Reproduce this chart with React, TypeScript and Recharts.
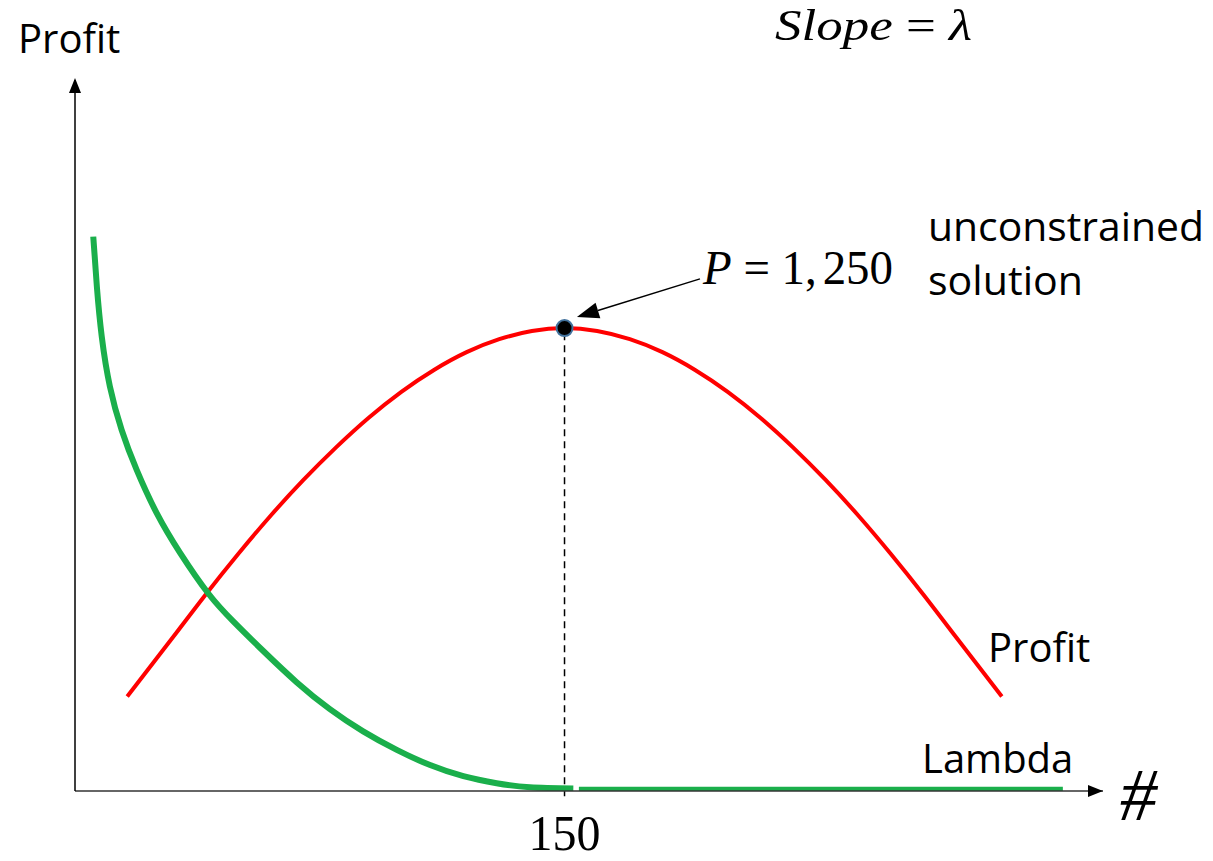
import React from "react";
import { ComposedChart, Line, XAxis, YAxis, ReferenceLine, ReferenceDot } from "recharts";

// values
const profitX = [16, 30, 40, 50, 60, 70, 80, 90, 100, 110, 120, 130, 140, 150, 160, 170, 180, 190, 200, 210, 220, 230, 240, 250, 260, 270, 284];
const profitY = [255, 415, 530, 640, 744, 840, 928, 1008, 1078, 1137, 1185, 1220, 1242, 1250, 1242, 1220, 1185, 1137, 1078, 1008, 928, 840, 744, 640, 530, 415, 255];
const lambdaX = [5.6, 6.7, 8.2, 10.7, 14.3, 18.9, 25, 32.2, 40.8, 48.5, 57.7, 67.9, 78.1, 88.3, 98.6, 108.8, 119, 129.2, 139.4, 152.7];
const lambdaY = [1497, 1362, 1227, 1092, 975, 867, 751, 643, 534, 458, 378, 294, 221, 161, 111, 70, 40, 21, 10, 7];
const lambdaFlatX = [154.4, 302.7];
const lambdaFlatY = [5, 5];
const optimumX = 150;
const optimumProfit = 1250;
const xTicks = [150];
const xMax = 315;
const yMax = 1920;

const profitData = profitX.map((x, i) => ({ x, y: profitY[i] }));
const lambdaData = lambdaX.map((x, i) => ({ x, y: lambdaY[i] }));
const lambdaFlatData = lambdaFlatX.map((x, i) => ({ x, y: lambdaFlatY[i] }));

const SANS = "'Open Sans', sans-serif";
const SERIF = "'Liberation Serif', 'Times New Roman', serif";

function XTick({ x, y, payload }: any) {
  return (
    <text x={x} y={y + 51} textAnchor="middle" fontFamily={SERIF} fontSize={50} textLength={72} lengthAdjust="spacingAndGlyphs" fill="#000">
      {payload.value}
    </text>
  );
}

function RightArrow({ cx, cy }: any) {
  return <polygon points={`${cx},${cy} ${cx - 15},${cy - 6} ${cx - 15},${cy + 6}`} fill="#000" />;
}

function UpArrow({ cx, cy }: any) {
  return <polygon points={`${cx},${cy - 2} ${cx - 6},${cy + 13} ${cx + 6},${cy + 13}`} fill="#000" />;
}

function Pointer({ x1, y1, x2, y2 }: any) {
  const dx = x2 - x1;
  const dy = y2 - y1;
  const len = Math.sqrt(dx * dx + dy * dy) || 1;
  const ux = dx / len;
  const uy = dy / len;
  const bx = x2 - ux * 22;
  const by = y2 - uy * 22;
  const px = -uy * 8;
  const py = ux * 8;
  return (
    <g>
      <line x1={x1} y1={y1} x2={bx} y2={by} stroke="#000" strokeWidth={1.5} />
      <polygon points={`${x2},${y2} ${bx + px},${by + py} ${bx - px},${by - py}`} fill="#000" />
    </g>
  );
}

export default function App() {
  return (
    <div style={{ position: "absolute", left: 0, top: 0, background: "#fff" }}>
      <ComposedChart width={1213} height={861} margin={{ top: 80, right: 110, bottom: 69, left: 74 }}>
        <XAxis
          type="number"
          dataKey="x"
          domain={[0, xMax]}
          ticks={xTicks}
          height={1}
          allowDataOverflow
          axisLine={{ stroke: "#333", strokeWidth: 1.5 }}
          tickLine={false}
          tick={<XTick />}
        />
        <YAxis
          type="number"
          domain={[0, yMax]}
          width={1}
          allowDataOverflow
          axisLine={{ stroke: "#000", strokeWidth: 1.5 }}
          tickLine={false}
          tick={false}
        />
        <ReferenceLine
          segment={[{ x: optimumX, y: -14 }, { x: optimumX, y: optimumProfit }]}
          ifOverflow="visible"
          stroke="#000"
          strokeWidth={1.5}
          strokeDasharray="7 5"
        />
        <Line data={profitData} dataKey="y" type="natural" stroke="#FF0000" strokeWidth={4} dot={false} isAnimationActive={false} />
        <Line data={lambdaData} dataKey="y" type="natural" stroke="#1AAF4B" strokeWidth={6} dot={false} isAnimationActive={false} />
        <Line data={lambdaFlatData} dataKey="y" type="linear" stroke="#1AAF4B" strokeWidth={5} dot={false} isAnimationActive={false} />
        <ReferenceDot x={optimumX} y={optimumProfit} r={8} fill="#000" stroke="#41719C" strokeWidth={2} />
        <ReferenceLine segment={[{ x: 191.5, y: 1383 }, { x: 153.8, y: 1280 }]} shape={<Pointer />} />
        <ReferenceDot x={xMax} y={0} shape={<RightArrow />} />
        <ReferenceDot x={0} y={yMax} shape={<UpArrow />} />

        <text x={18} y={53} fontFamily={SANS} fontSize={40} fill="#000">Profit</text>
        <text x={775} y={40} fontFamily={SERIF} fontSize={44} textLength={197} lengthAdjust="spacingAndGlyphs" fill="#000">
          <tspan fontStyle="italic">Slope</tspan>
          <tspan> = </tspan>
          <tspan fontStyle="italic">λ</tspan>
        </text>
        <text x={703} y={284} fontFamily={SERIF} fontSize={48} textLength={190} lengthAdjust="spacingAndGlyphs" fill="#000">
          <tspan fontStyle="italic">P</tspan>
          <tspan> = 1,</tspan>
          <tspan dx={6}>250</tspan>
        </text>
        <text x={928} y={241} fontFamily={SANS} fontSize={40} textLength={276} lengthAdjust="spacingAndGlyphs" fill="#000">unconstrained</text>
        <text x={928} y={295} fontFamily={SANS} fontSize={40} textLength={155} lengthAdjust="spacingAndGlyphs" fill="#000">solution</text>
        <text x={988} y={662} fontFamily={SANS} fontSize={40} fill="#000">Profit</text>
        <text x={922} y={773} fontFamily={SANS} fontSize={40} fill="#000">Lambda</text>
        <text x={1120} y={820} fontFamily={SERIF} fontSize={74} fontStyle="italic" fill="#000">#</text>
      </ComposedChart>
    </div>
  );
}
